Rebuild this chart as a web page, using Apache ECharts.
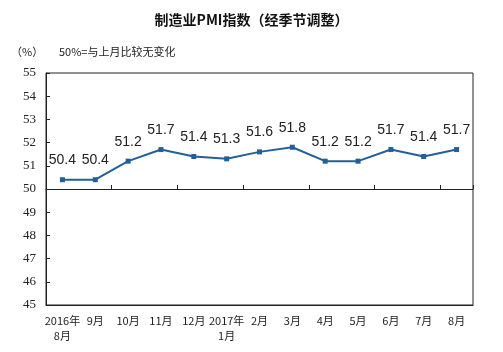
<!DOCTYPE html>
<html>
<head>
<meta charset="utf-8">
<script src="https://cdn.jsdelivr.net/npm/echarts@6/dist/echarts.min.js"></script>
<style>
html,body{margin:0;padding:0;background:#fff;}
#main{width:503px;height:352px;}
</style>
</head>
<body>
<div id="main"></div>
<script>
// 月份
var months=['2016年\n8月','9月','10月','11月','12月','2017年\n1月','2月','3月','4月','5月','6月','7月','8月'];
// PMI值
var pmiValues=[50.4,50.4,51.2,51.7,51.4,51.3,51.6,51.8,51.2,51.2,51.7,51.4,51.7];

var chart=echarts.init(document.getElementById('main'));
var option={
	backgroundColor:'#fff',
	title:[{
		text:'制造业PMI指数（经季节调整）',
		left:'center',
		top:8,
		textStyle:{fontSize:14,fontWeight:'bold',color:'#111',fontFamily:'Noto Sans CJK SC'}
	},{
		text:'（%）',
		left:6,
		top:41,
		textStyle:{fontSize:11,fontWeight:'normal',color:'#222',fontFamily:'Noto Sans CJK SC'}
	},{
		text:'50%=与上月比较无变化',
		left:54,
		top:41,
		textStyle:{fontSize:11,fontWeight:'normal',color:'#222',fontFamily:'Noto Sans CJK SC'}
	}],
	grid:{left:46,right:30,top:73,bottom:47,show:true,borderColor:'#222',borderWidth:1},
	xAxis:[{
		type:'category',
		data:months,
		position:'bottom',
		axisLine:{show:true,lineStyle:{color:'#222'}},
		axisTick:{show:false},
		axisLabel:{interval:0,color:'#222',fontSize:11,fontFamily:'Noto Sans CJK SC',margin:8,lineHeight:15}
	},{
		// 50处的横线
		type:'category',
		data:months,
		position:'bottom',
		offset:-116,
		axisLine:{show:true,lineStyle:{color:'#222'}},
		axisTick:{show:true,inside:true,length:4,lineStyle:{color:'#222'}},
		axisLabel:{show:false}
	}],
	yAxis:{
		type:'value',
		min:45,
		max:55,
		interval:1,
		axisLine:{show:true,lineStyle:{color:'#222'}},
		axisTick:{show:true,inside:true,length:4,lineStyle:{color:'#222'}},
		splitLine:{show:false},
		axisLabel:{color:'#222',fontSize:13,fontFamily:'Liberation Serif',margin:10}
	},
	series:[{
		type:'line',
		data:pmiValues,
		symbol:'rect',
		symbolSize:5,
		lineStyle:{color:'#23609a',width:2},
		itemStyle:{color:'#23609a'},
		label:{show:true,position:'top',distance:10,color:'#222',fontSize:14,fontFamily:'Liberation Sans'}
	}]
};
chart.setOption(option);
</script>
</body>
</html>
